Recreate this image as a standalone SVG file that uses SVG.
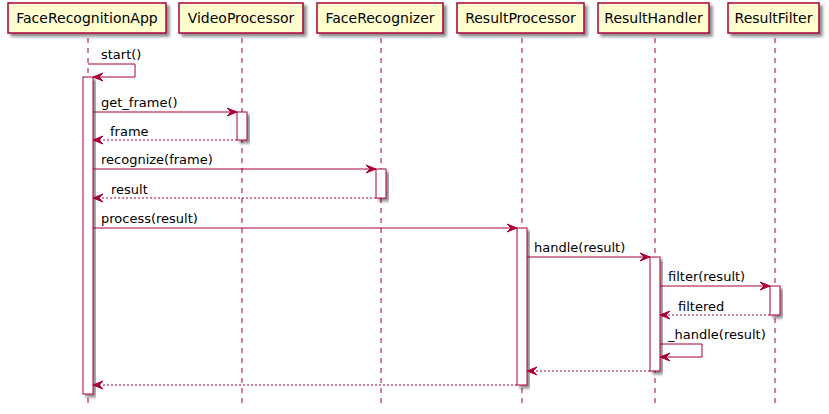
<svg xmlns="http://www.w3.org/2000/svg" width="829" height="414" viewBox="0 0 829 414">
<style>
.box{fill:#FEFECE;stroke:#A80036;stroke-width:1.5;filter:url(#sh)}
.act{fill:#FFFFFF;stroke:#A80036;stroke-width:1;filter:url(#sh)}
.life{stroke:#A80036;stroke-width:1;stroke-dasharray:5,5;fill:none}
.msg{stroke:#A80036;stroke-width:1;fill:none;marker-end:url(#ah)}
.ret{stroke:#A80036;stroke-width:1;fill:none;stroke-dasharray:2,2;marker-end:url(#ah)}
.pt{font-family:"DejaVu Sans",sans-serif;font-size:14px;fill:#000;text-anchor:middle}
.mt{font-family:"DejaVu Sans",sans-serif;font-size:13px;fill:#000}
</style>
<defs>
<filter id="sh" x="-20%" y="-20%" width="150%" height="150%">
<feGaussianBlur in="SourceAlpha" stdDeviation="1.5"/>
<feOffset dx="3" dy="3" result="b"/>
<feComponentTransfer><feFuncA type="linear" slope="0.45"/></feComponentTransfer>
<feMerge><feMergeNode/><feMergeNode in="SourceGraphic"/></feMerge>
</filter>
<marker id="ah" markerUnits="userSpaceOnUse" markerWidth="11" markerHeight="10" refX="10" refY="4" orient="auto" overflow="visible">
<path d="M0,0 L10,4 L0,8 L4,4 Z" fill="#A80036" stroke="#A80036" stroke-width="1"/>
</marker>
</defs>
<g id="lifelines">
<line class="life" x1="88" y1="38" x2="88" y2="406"/>
<line class="life" x1="242" y1="38" x2="242" y2="406"/>
<line class="life" x1="381" y1="38" x2="381" y2="406"/>
<line class="life" x1="522" y1="38" x2="522" y2="406"/>
<line class="life" x1="655" y1="38" x2="655" y2="406"/>
<line class="life" x1="775" y1="38" x2="775" y2="406"/>
</g>
<g id="FaceRecognitionApp">
<rect class="box" x="8" y="3" width="158" height="30"/>
<text class="pt" x="87" y="23">FaceRecognitionApp</text>
<rect class="act" x="83" y="77" width="10" height="317"/>
</g>
<g id="VideoProcessor">
<rect class="box" x="179" y="3" width="124" height="30"/>
<text class="pt" x="241" y="23">VideoProcessor</text>
<rect class="act" x="237" y="112" width="10" height="28"/>
</g>
<g id="FaceRecognizer">
<rect class="box" x="317" y="3" width="126" height="30"/>
<text class="pt" x="380" y="23">FaceRecognizer</text>
<rect class="act" x="376" y="169" width="10" height="29"/>
</g>
<g id="ResultProcessor">
<rect class="box" x="457" y="3" width="127" height="30"/>
<text class="pt" x="520.5" y="23">ResultProcessor</text>
<rect class="act" x="517" y="228" width="10" height="157"/>
</g>
<g id="ResultHandler">
<rect class="box" x="598" y="3" width="111" height="30"/>
<text class="pt" x="653.5" y="23">ResultHandler</text>
<rect class="act" x="650" y="257" width="10" height="114"/>
</g>
<g id="ResultFilter">
<rect class="box" x="728" y="3" width="91" height="30"/>
<text class="pt" x="773.5" y="23">ResultFilter</text>
<rect class="act" x="770" y="286" width="10" height="29"/>
</g>
<g id="connectors">
<polyline class="msg" points="88,64 135,64 135,77 93,77"/>
<text class="mt" x="101" y="59">start()</text>
<line class="msg" x1="93" y1="112" x2="237" y2="112"/>
<text class="mt" x="101" y="107">get_frame()</text>
<line class="ret" x1="237" y1="140" x2="93" y2="140"/>
<text class="mt" x="110" y="136">frame</text>
<line class="msg" x1="93" y1="169" x2="376" y2="169"/>
<text class="mt" x="101" y="164">recognize(frame)</text>
<line class="ret" x1="376" y1="198" x2="93" y2="198"/>
<text class="mt" x="111" y="194">result</text>
<line class="msg" x1="93" y1="228" x2="517" y2="228"/>
<text class="mt" x="101" y="223">process(result)</text>
<line class="msg" x1="527" y1="257" x2="650" y2="257"/>
<text class="mt" x="534" y="252">handle(result)</text>
<line class="msg" x1="660" y1="286" x2="770" y2="286"/>
<text class="mt" x="668" y="281">filter(result)</text>
<line class="ret" x1="770" y1="315" x2="660" y2="315"/>
<text class="mt" x="678" y="311">filtered</text>
<polyline class="msg" points="660,344 702,344 702,357 660,357"/>
<text class="mt" x="668" y="339">_handle(result)</text>
<line class="ret" x1="650" y1="371" x2="527" y2="371"/>
<line class="ret" x1="517" y1="385" x2="93" y2="385"/>
</g>
</svg>
